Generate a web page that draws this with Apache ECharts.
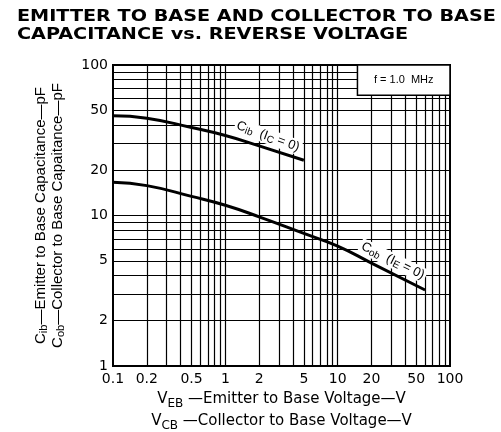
<!DOCTYPE html>
<html>
<head>
<meta charset="utf-8">
<script src="https://cdn.jsdelivr.net/npm/echarts@6/dist/echarts.min.js"></script>
<style>
html, body { margin: 0; padding: 0; background: #fff; }
#chart { width: 501px; height: 432px; }
</style>
</head>
<body>
<div id="chart"></div>
<script>
// Cib (IC = 0)
var cibVoltage = [0.1, 0.2, 0.5, 1, 2, 5];
var cibCap = [46, 44.3, 38.4, 34, 29, 23.3];

// Cob (IE = 0)
var cobVoltage = [0.1, 0.2, 0.5, 1, 2, 5, 10, 20, 60];
var cobCap = [16.6, 15.8, 13.4, 11.7, 9.8, 7.6, 6.26, 4.83, 3.2];

var xTickLabels = [0.1, 0.2, 0.5, 1, 2, 5, 10, 20, 50, 100];
var yTickLabels = [1, 2, 5, 10, 20, 50, 100];

var xGrid = [0.2, 0.3, 0.4, 0.5, 0.6, 0.7, 0.8, 0.9, 1, 2, 3, 4, 5, 6, 7, 8, 9, 10, 20, 30, 40, 50, 60, 70, 80, 90];
var yGrid = [2, 3, 4, 5, 6, 7, 8, 9, 10, 20, 30, 40, 50, 60, 70, 80, 90];

// corner of the "f = 1.0 MHz" note, in data units
var noteCorner = [15, 63];

var pairs = function (xs, ys) {
    return xs.map(function (x, i) { return [x, ys[i]]; });
};

var sans = '"Liberation Sans", Arial, sans-serif';
var wide = '"DejaVu Sans", sans-serif';

var xNameRich = {
    n: { fontSize: 15, lineHeight: 22, color: '#000', fontFamily: wide, verticalAlign: 'middle' },
    s: { fontSize: 12, lineHeight: 12, color: '#000', fontFamily: wide, verticalAlign: 'bottom' }
};
var yNameRich = {
    n: { fontSize: 15, lineHeight: 17, color: '#000', fontFamily: sans, verticalAlign: 'middle' },
    s: { fontSize: 11, lineHeight: 10, color: '#000', fontFamily: sans, verticalAlign: 'bottom' }
};
var labelRich = {
    n: { fontSize: 13, lineHeight: 15, color: '#000', fontFamily: sans, verticalAlign: 'middle' },
    s: { fontSize: 10, lineHeight: 10, color: '#000', fontFamily: sans, verticalAlign: 'bottom' }
};

var chart = echarts.init(document.getElementById('chart'));

var titleText = function (txt, y) {
    return {
        type: 'text',
        x: 17,
        y: y,
        scaleX: 1.2,
        style: {
            text: txt,
            fill: '#000',
            font: 'bold 16px "DejaVu Sans", sans-serif',
            textVerticalAlign: 'top'
        }
    };
};

chart.setOption({
    animation: false,
    backgroundColor: '#fff',
    grid: {
        left: 113,
        right: 51,
        top: 65,
        bottom: 66,
        outerBoundsMode: 'none',
        containLabel: false,
        show: true,
        borderColor: '#000',
        borderWidth: 2
    },
    xAxis: {
        type: 'log',
        logBase: 10,
        min: 0.1,
        max: 100,
        axisLine: { show: true, lineStyle: { color: '#000', width: 2 } },
        axisTick: { show: false },
        splitLine: { show: false },
        axisLabel: {
            customValues: xTickLabels,
            color: '#000',
            fontFamily: wide,
            fontSize: 14,
            margin: 6,
            formatter: function (v) { return String(v); }
        },
        nameLocation: 'middle',
        nameGap: 22,
        name: '{n|V}{s|EB}{n| —Emitter to Base Voltage—V}\n{n|V}{s|CB}{n| —Collector to Base Voltage—V}',
        nameTextStyle: { rich: xNameRich }
    },
    yAxis: {
        type: 'log',
        logBase: 10,
        min: 1,
        max: 100,
        axisLine: { show: true, lineStyle: { color: '#000', width: 2 } },
        axisTick: { show: false },
        splitLine: { show: false },
        axisLabel: {
            customValues: yTickLabels,
            color: '#000',
            fontFamily: wide,
            fontSize: 14,
            margin: 5,
            formatter: function (v) { return String(v); }
        },
        nameLocation: 'middle',
        nameRotate: 90,
        nameGap: 47,
        name: '{n|C}{s|ib}{n|—Emitter to Base Capacitance—pF}\n{n|C}{s|ob}{n|—Collector to Base Capaitance—pF}',
        nameTextStyle: { rich: yNameRich }
    },
    series: [
        {
            // log grid drawn on the axes' own scales
            type: 'line',
            data: [],
            z: 1,
            silent: true,
            markLine: {
                silent: true,
                symbol: ['none', 'none'],
                label: { show: false },
                lineStyle: { color: '#000', width: 1.2, type: 'solid' },
                data: xGrid.map(function (v) { return { xAxis: v }; })
                    .concat(yGrid.map(function (v) { return { yAxis: v }; }))
            }
        },
        {
            name: 'Cib',
            type: 'line',
            z: 3,
            smooth: true,
            symbol: 'none',
            lineStyle: { color: '#000', width: 3 },
            data: pairs(cibVoltage, cibCap),
            markPoint: {
                symbol: 'circle',
                symbolSize: 0,
                label: {
                    show: true,
                    position: 'inside',
                    rotate: -20,
                    backgroundColor: '#fff',
                    padding: [0, 2],
                    rich: labelRich,
                    formatter: '{n|C}{s|ib}{n|  (I}{s|C}{n| = 0)}'
                },
                data: [{ coord: [2.4, 33.5] }]
            }
        },
        {
            name: 'Cob',
            type: 'line',
            z: 3,
            smooth: true,
            symbol: 'none',
            lineStyle: { color: '#000', width: 3 },
            data: pairs(cobVoltage, cobCap),
            markPoint: {
                symbol: 'circle',
                symbolSize: 0,
                label: {
                    show: true,
                    position: 'inside',
                    rotate: -26,
                    backgroundColor: '#fff',
                    padding: [0, 2],
                    rich: labelRich,
                    formatter: '{n|C}{s|ob}{n|  (I}{s|E}{n| = 0)}'
                },
                data: [{ coord: [31, 5] }]
            }
        }
    ]
});

// note box and title, placed once the axes exist
var p0 = chart.convertToPixel({ gridIndex: 0 }, noteCorner);
var p1 = chart.convertToPixel({ gridIndex: 0 }, [100, 100]);

chart.setOption({
    graphic: [
        titleText('EMITTER TO BASE AND COLLECTOR TO BASE', 9),
        titleText('CAPACITANCE vs. REVERSE VOLTAGE', 27),
        {
            type: 'rect',
            z: 50,
            shape: { x: p0[0], y: p1[1], width: p1[0] - p0[0], height: p0[1] - p1[1] },
            style: { fill: '#fff', stroke: '#000', lineWidth: 1.5 }
        },
        {
            type: 'text',
            z: 51,
            x: (p0[0] + p1[0]) / 2,
            y: (p0[1] + p1[1]) / 2,
            style: {
                text: 'f = 1.0  MHz',
                fill: '#000',
                font: '11px "Liberation Sans", Arial, sans-serif',
                textAlign: 'center',
                textVerticalAlign: 'middle'
            }
        }
    ]
});
</script>
</body>
</html>
